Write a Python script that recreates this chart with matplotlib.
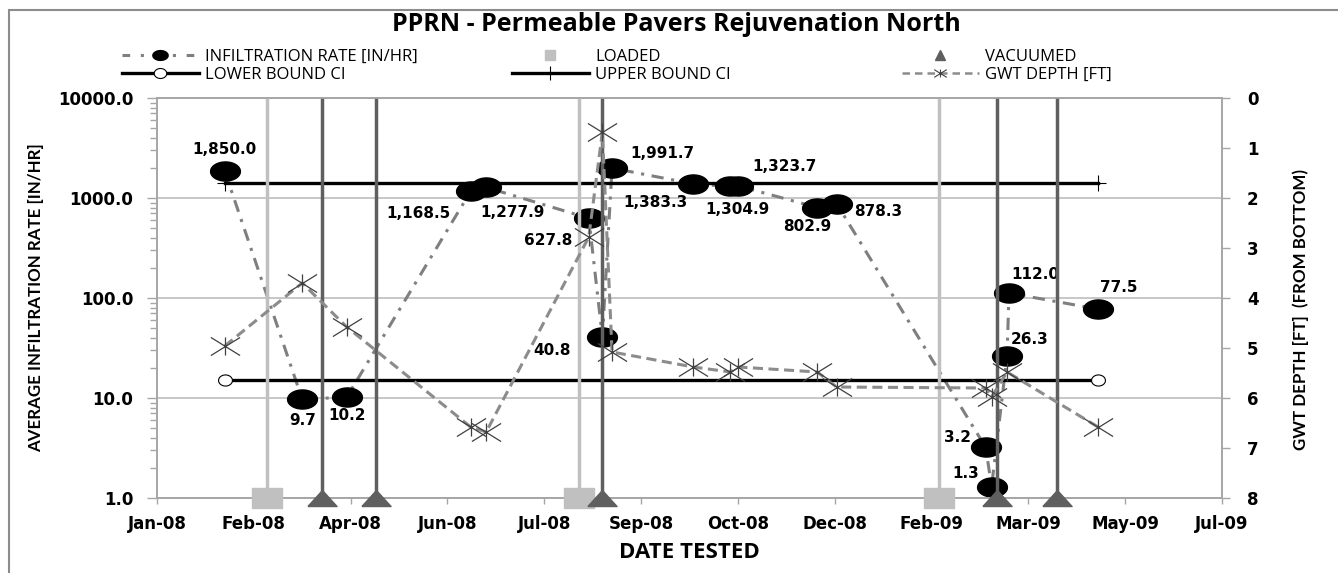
import datetime as dt
import numpy as np
import matplotlib
matplotlib.use("Agg")
import matplotlib.pyplot as plt
import matplotlib.dates as mdates
from matplotlib.path import Path
from matplotlib.lines import Line2D
from matplotlib.patches import Rectangle
from matplotlib.ticker import FixedLocator, FuncFormatter, LogLocator, NullFormatter

D = dt.datetime

# infiltration tests (left axis, log)
test_dates = [D(2008, 2, 8), D(2008, 3, 19), D(2008, 4, 11), D(2008, 6, 14), D(2008, 6, 22),
              D(2008, 8, 14), D(2008, 8, 21), D(2008, 8, 26), D(2008, 10, 7), D(2008, 10, 26),
              D(2008, 10, 30), D(2008, 12, 10), D(2008, 12, 20), D(2009, 3, 7), D(2009, 3, 10),
              D(2009, 3, 18), D(2009, 3, 19), D(2009, 5, 4)]
infiltration = [1850.0, 9.7, 10.2, 1168.5, 1277.9, 627.8, 40.8, 1991.7, 1383.3, 1304.9,
                1323.7, 802.9, 878.3, 3.2, 1.3, 26.3, 112.0, 77.5]

# groundwater table depth (right axis)
gwt_dates = [D(2008, 2, 8), D(2008, 3, 19), D(2008, 4, 11), D(2008, 6, 14), D(2008, 6, 22),
             D(2008, 8, 14), D(2008, 8, 21), D(2008, 8, 26), D(2008, 10, 7), D(2008, 10, 26),
             D(2008, 10, 30), D(2008, 12, 10), D(2008, 12, 20), D(2009, 3, 7), D(2009, 3, 10),
             D(2009, 3, 18), D(2009, 5, 4)]
gwt_depth = [4.96, 3.70, 4.58, 6.58, 6.68, 2.78, 0.68, 5.08, 5.38, 5.48, 5.38, 5.48, 5.78,
             5.80, 5.98, 5.48, 6.58]

# confidence interval bounds
ci_dates = [D(2008, 2, 8), D(2009, 5, 4)]
lower_ci = [15.0, 15.0]
upper_ci = [1410.0, 1410.0]

# maintenance events
loaded_dates = [D(2008, 3, 1), D(2008, 8, 9), D(2009, 2, 11)]
vacuumed_dates = [D(2008, 3, 29), D(2008, 4, 26), D(2008, 8, 21), D(2009, 3, 13), D(2009, 4, 13)]

# label offsets in pixels (dx, dy down)
label_offsets = [(0, -22), (0, 21), (0, 18), (-52, 22), (26, 25), (-41, 22), (-50, 14),
                 (50, -15), (-38, 19), (7, 23), (47, -19), (-10, 19), (42, 8), (-28, -10),
                 (-26, -13), (23, -17), (26, -19), (21, -22)]

x_start = D(2008, 1, 4)
x_ticks = [x_start + dt.timedelta(days=50 * k) for k in range(12)]

CAL = ["Open Sans", "DejaVu Sans"]
LAB = ["Lato", "DejaVu Sans"]
PX = 0.72  # px -> pt at dpi 100
W, H = 1338, 573

# custom markers
t = np.linspace(0, 2 * np.pi, 48)
ellipse = Path(np.column_stack([np.cos(t), 0.64 * np.sin(t)]))
small_ellipse = Path(np.column_stack([np.cos(t), 0.8 * np.sin(t)]))
asterisk = Path([(-1, -0.62), (1, 0.62), (-1, 0.62), (1, -0.62), (0, -0.62), (0, 0.62)],
                [Path.MOVETO, Path.LINETO] * 3)
flat_square = Path([(-1, -0.66), (1, -0.66), (1, 0.66), (-1, 0.66), (-1, -0.66)])
flat_tri = Path([(-1, -0.55), (1, -0.55), (0, 0.55), (-1, -0.55)])

fig = plt.figure(figsize=(W / 100, H / 100), dpi=100)
ax = fig.add_axes([157 / W, 75 / H, 1065 / W, 400 / H])
ax2 = ax.twinx()

fig.patches.append(Rectangle((9 / W, -0.1), 1.2, 1 - 10 / H + 0.1, transform=fig.transFigure,
                             fill=False, edgecolor="#8c8c8c", lw=1.5))

# left axis series
ax.plot(test_dates, infiltration, color="#7f7f7f", lw=2.2, ls=(0, (4, 2.5, 1, 2.5)),
        marker=ellipse, ms=21.5, mfc="black", mec="black", zorder=3)
ax.plot(ci_dates, lower_ci, color="black", lw=2.4, marker=small_ellipse, ms=10,
        mfc="white", mec="black", mew=0.8, zorder=3)
ax.plot(ci_dates, upper_ci, color="black", lw=2.4, marker="+", ms=11, mew=0.8, zorder=3)

for d, v, (dx, dy) in zip(test_dates, infiltration, label_offsets):
    ax.annotate(f"{v:,.1f}", (d, v), xytext=(dx * PX, -dy * PX), textcoords="offset points",
                ha="center", va="center", fontsize=11, fontweight="bold", zorder=6)

ax.set_yscale("log")
ax.set_ylim(1, 10000)
ax.yaxis.set_major_locator(FixedLocator([1, 10, 100, 1000, 10000]))
ax.yaxis.set_major_formatter(FuncFormatter(lambda v, p: f"{v:.1f}"))
ax.yaxis.set_minor_locator(LogLocator(base=10, subs=np.arange(2, 10)))
ax.yaxis.set_minor_formatter(NullFormatter())
ax.grid(axis="y", which="major", color="#bdbdbd", lw=1.2)
ax.set_axisbelow(True)

ax.set_xlim(x_ticks[0], x_ticks[-1])
ax.set_xticks(x_ticks)
ax.xaxis.set_major_formatter(mdates.DateFormatter("%b-%y"))

# right axis: maintenance events and GWT
for d in loaded_dates:
    ax2.axvline(d, color="#c0c0c0", lw=2.5, zorder=2)
for d in vacuumed_dates:
    ax2.axvline(d, color="#5f5f5f", lw=2.5, zorder=2)
ax2.plot(loaded_dates, [8] * len(loaded_dates), ls="none", marker=flat_square, ms=21,
         color="#c0c0c0", clip_on=False, zorder=4)
ax2.plot(vacuumed_dates, [8] * len(vacuumed_dates), ls="none", marker=flat_tri, ms=21,
         color="#5f5f5f", clip_on=False, zorder=4)
ax2.plot(gwt_dates, gwt_depth, color="#8c8c8c", lw=2.2, ls=(0, (3.3, 1.8)),
         marker=asterisk, ms=21, mfc="none", mec="#404040", mew=0.9, zorder=5)
ax2.set_ylim(8, 0)
ax2.set_yticks(range(0, 9))

for a in (ax, ax2):
    for s in a.spines.values():
        s.set_color("#a6a6a6")
        s.set_linewidth(1.2)
    a.tick_params(which="both", color="#a6a6a6", labelsize=12, width=1)
    for lab in a.get_xticklabels() + a.get_yticklabels():
        lab.set_fontweight("bold")
ax.tick_params(axis="y", which="major", length=7, pad=10)
ax.tick_params(axis="y", which="minor", length=5)
ax.tick_params(axis="x", length=4, pad=8)
ax2.tick_params(axis="y", length=6, pad=12)

ax.set_ylabel("AVERAGE INFILTRATION RATE [IN/HR]", family=LAB, fontsize=12.2,
              fontweight="bold")
ax.yaxis.set_label_coords((36 - 157) / 1065, 0.5)
ax.yaxis.label.set_verticalalignment("center")
ax2.set_ylabel("GWT DEPTH [FT]  (FROM BOTTOM)", family=LAB, fontsize=12.2, fontweight="bold")
ax2.yaxis.set_label_coords((1301 - 157) / 1065, 0.47)
ax2.yaxis.label.set_verticalalignment("center")
ax.set_xlabel("DATE TESTED", family=CAL, fontsize=16, fontweight="bold", labelpad=7)

fig.text(676 / W, 1 - 31 / H, "PPRN - Permeable Pavers Rejuvenation North", ha="center",
         va="baseline", family=CAL, fontsize=18, fontweight="bold")

# legend entries, placed one by one like the spreadsheet legend
h_inf = Line2D([], [], color="#7f7f7f", lw=2.2, ls=(0, (2.5, 3.5, 1, 3.5)), marker=ellipse,
               ms=11, mfc="black", mec="black")
h_low = Line2D([], [], color="black", lw=2.4, marker=small_ellipse, ms=9, mfc="white",
               mec="black", mew=0.8)
h_load = Line2D([], [], ls="none", marker="s", ms=7, color="#c0c0c0")
h_up = Line2D([], [], color="black", lw=2.4, marker="+", ms=10, mew=0.8)
h_vac = Line2D([], [], ls="none", marker="^", ms=7, color="#5f5f5f")
h_gwt = Line2D([], [], color="#8c8c8c", lw=1.8, ls=(0, (3, 2)), marker=asterisk, ms=9,
               mfc="none", mec="#404040", mew=0.8)

legend_entries = [(h_inf, "INFILTRATION RATE [IN/HR]", 122, 57),
                  (h_low, "LOWER BOUND CI", 122, 75),
                  (h_load, "LOADED", 512, 57),
                  (h_up, "UPPER BOUND CI", 512, 75),
                  (h_vac, "VACUUMED", 902, 57),
                  (h_gwt, "GWT DEPTH [FT]", 902, 75)]
for h, label, x0, y0 in legend_entries:
    fig.legend([h], [label], loc="center left", bbox_to_anchor=(x0 / W, 1 - y0 / H),
               frameon=False, borderpad=0, borderaxespad=0, handlelength=4.6,
               handletextpad=0.4, prop={"family": CAL, "size": 12})

fig.savefig("out.png", dpi=100)
